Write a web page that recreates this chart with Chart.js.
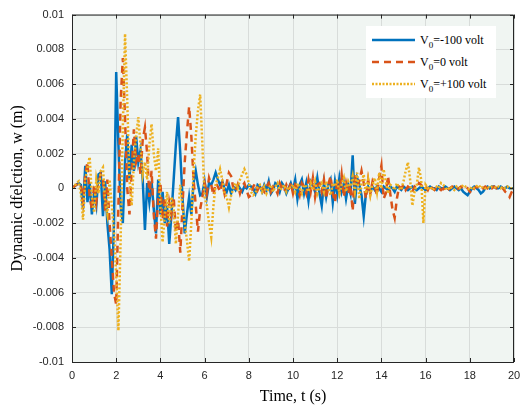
<!DOCTYPE html>
<html>
<head>
<meta charset="utf-8">
<script src="https://cdn.jsdelivr.net/npm/chart.js@4.4.1/dist/chart.umd.min.js"></script>
<style>
  html, body { margin: 0; padding: 0; background: #ffffff; }
  #wrap { position: relative; width: 520px; height: 408px; }
  #c { position: absolute; left: 0; top: 0; }
  #legend { position: absolute; left: 366px; top: 26px; width: 130px; height: 72px;
    background: #ffffff; font-family: "Liberation Serif", "Times New Roman", serif; font-size: 12px; color: #000; }
  .row { position: absolute; left: 6px; height: 16px; display: flex; align-items: center; white-space: nowrap; }
  .row svg { margin-right: 5px; }
  .row sub { font-size: 9px; vertical-align: -4px; line-height: 0; }
</style>
</head>
<body>
<div id="wrap">
  <canvas id="c" width="520" height="408"></canvas>
  <div id="legend"></div>
</div>
<script>
// ---- data (time in s, deflection in m) ----
const time = [
  0,0.1,0.2,0.3,0.4,0.5,0.6,0.7,0.8,0.9,
  1,1.1,1.2,1.3,1.4,1.5,1.6,1.7,1.8,1.9,
  2,2.1,2.2,2.3,2.4,2.5,2.6,2.7,2.8,2.9,
  3,3.1,3.2,3.3,3.4,3.5,3.6,3.7,3.8,3.9,
  4,4.1,4.2,4.3,4.4,4.5,4.6,4.7,4.8,4.9,
  5,5.1,5.2,5.3,5.4,5.5,5.6,5.7,5.8,5.9,
  6,6.1,6.2,6.3,6.4,6.5,6.6,6.7,6.8,6.9,
  7,7.1,7.2,7.3,7.4,7.5,7.6,7.7,7.8,7.9,
  8,8.1,8.2,8.3,8.4,8.5,8.6,8.7,8.8,8.9,
  9,9.1,9.2,9.3,9.4,9.5,9.6,9.7,9.8,9.9,
  10,10.1,10.2,10.3,10.4,10.5,10.6,10.7,10.8,10.9,
  11,11.1,11.2,11.3,11.4,11.5,11.6,11.7,11.8,11.9,
  12,12.1,12.2,12.3,12.4,12.5,12.6,12.7,12.8,12.9,
  13,13.1,13.2,13.3,13.4,13.5,13.6,13.7,13.8,13.9,
  14,14.1,14.2,14.3,14.4,14.5,14.6,14.7,14.8,14.9,
  15,15.1,15.2,15.3,15.4,15.5,15.6,15.7,15.8,15.9,
  16,16.1,16.2,16.3,16.4,16.5,16.6,16.7,16.8,16.9,
  17,17.1,17.2,17.3,17.4,17.5,17.6,17.7,17.8,17.9,
  18,18.1,18.2,18.3,18.4,18.5,18.6,18.7,18.8,18.9,
  19,19.1,19.2,19.3,19.4,19.5,19.6,19.7,19.8,19.9,
  20
];
const wMinus100 = [
  0,0.0001,0.0002,0.0003,0.0002,-0.0012,0.0013,-0.0008,0.0003,-0.0015,
  -0.0003,-0.001,0.0008,0.0009,-0.0016,0.0004,-0.002,-0.0035,-0.0061,-0.002,
  0.0067,0.0025,-0.001,-0.002,0.0015,0.0031,0.0005,0.0025,0.001,0.003,
  0.0015,0.0022,0.0005,-0.0024,0.0003,-0.0008,0.0004,-0.0012,-0.0026,0.0005,
  -0.0015,-0.0002,-0.002,-0.001,-0.0032,-0.0015,0.0005,0.0025,0.0041,0.002,
  -0.0005,-0.0026,-0.0015,-0.0005,-0.0015,0.0003,0.001,0.0002,-0.0004,-0.0003,
  0.0004,-0.0005,0.0003,0.0002,0.0005,0.0009,0.0005,0.0002,0.0004,0,
  -0.0002,0.0002,-0.0003,0.0001,-0.0001,0.0002,0,-0.0002,0.0001,0,
  0.0002,0.0001,0,-0.0003,0.0002,0.0001,-0.0002,0.0002,-0.0001,0.0004,
  -0.0003,-0.0001,0.0003,0.0002,-0.0002,0.0003,0.0001,-0.0003,0,0.0003,
  -0.0001,0.0005,-0.0006,0.0002,0.0005,-0.0003,0.0003,-0.0007,0.0004,0.0002,
  -0.0002,0.0006,-0.0003,-0.001,0.0003,-0.0005,0.0002,0.0005,-0.0008,0.0004,
  -0.0004,0.0006,-0.0002,0.0003,-0.0006,0.0002,-0.0003,0.0019,-0.0009,0.0006,
  0.0002,-0.0004,-0.0016,-0.0003,0.0001,-0.0002,0.0001,-0.0001,0.0001,0,
  -0.0002,0.0001,0,-0.0001,0.0001,0,-0.0002,0.0001,0,-0.0001,
  0.0001,0,-0.0001,0,0.0001,0,-0.0001,0,0.0001,0,
  -0.0001,0,0.0001,0,0,-0.0001,0.0001,0,0,0.0001,
  0,-0.0001,0,0.0001,0,-0.0001,0,-0.0002,-0.0003,-0.0004,
  -0.0002,0,0.0001,0,-0.0001,-0.0003,-0.0002,0,0.0001,0,
  0.0001,0.0001,0,0,0.0001,0,0,0.0001,0,0,
  0
];
const wZero = [
  0,0.0001,0.0002,0.0003,0.0002,-0.0008,0.0008,0.0015,-0.0005,-0.0012,
  0.0002,-0.0008,0.0003,0.0008,0.0005,-0.0013,0.0005,-0.002,-0.004,-0.006,
  -0.0067,-0.001,0.005,0.0075,0.004,0,-0.0015,0.001,0.0034,0.0015,
  0.002,0.0008,0.0028,0.0035,0.002,-0.0005,0.001,-0.0015,-0.0029,-0.0005,
  0.0003,-0.0018,-0.0005,-0.0022,-0.0008,-0.0015,-0.0005,-0.0025,-0.0018,-0.0037,
  -0.001,0.0015,0.0032,0.0047,0.003,0.0005,-0.001,-0.0025,-0.0012,-0.0005,
  0.0003,-0.0003,0.0006,0.0002,-0.0004,0.0003,0.0001,-0.0002,0.0003,-0.0003,
  0.0003,0.0009,0.0007,0,-0.0002,0.0002,-0.0003,0.0001,0.0003,-0.0001,
  -0.0005,-0.0004,0.0001,0.0003,-0.0001,0.0002,0,-0.0002,0.0001,0.0003,
  -0.0002,0.0001,0,-0.0003,0.0003,0,-0.0002,0.0002,-0.0001,0.0003,
  -0.0003,0.0002,0,-0.0004,0.0003,0.0001,-0.0003,0.0005,-0.0002,0.0006,
  -0.0005,0.0002,0.0003,-0.0002,0.0005,-0.0006,0.0002,0.0007,-0.0003,-0.0008,
  0.0004,-0.0002,0.0008,-0.0005,0.0003,-0.0003,0.0002,-0.0013,0.0008,0.0001,
  0.0004,0.001,0.0003,-0.0006,0.0005,-0.0003,0.0004,0.0001,-0.0004,0.0006,
  0.0013,-0.0006,-0.0003,0.0007,-0.0003,-0.0012,-0.0017,-0.0006,0.0001,0,
  0.0002,-0.0001,0.0001,0,-0.0002,0.0001,0,0.0003,0.0002,0,
  0.0001,-0.0001,0.0002,0,-0.0001,0.0001,0,-0.0001,0,-0.0002,
  -0.0001,0,0.0001,0,-0.0001,0,0.0001,0,-0.0001,0,
  -0.0002,-0.0003,0,0.0001,0,0.0001,0,0.0001,0,0.0001,
  0,0.0001,0,0,0.0001,0,-0.0002,-0.0003,-0.0005,-0.0002,
  0
];
const wPlus100 = [
  0,0.0001,0.0003,0.0004,-0.0003,-0.0018,0.0005,0.0012,0.0018,-0.0005,
  -0.0014,0.0005,-0.0003,0.001,0.0012,-0.0008,-0.0015,0.0005,-0.001,-0.0025,
  -0.005,-0.0082,-0.003,0.0035,0.0089,0.005,0.0005,-0.001,0.0015,0.003,
  0.0041,0.0025,0.0008,0.0015,0.0005,0.0025,0.0037,0.002,0.001,0.0023,
  -0.001,-0.0031,-0.0015,-0.0002,-0.002,-0.0005,-0.0012,-0.0032,-0.0015,0.0002,
  -0.001,-0.002,-0.003,-0.0042,-0.002,0.001,0.003,0.0045,0.0054,0.0025,
  -0.0005,-0.001,-0.002,-0.0028,-0.001,0.0002,0.0006,0.0011,0.0005,-0.0003,
  -0.0005,-0.0011,-0.0004,0,0.0003,0,0.0005,0.0008,0.0011,0.0008,
  0.0003,-0.0002,-0.0004,-0.0003,0.0001,0.0002,-0.0002,0.0001,-0.0003,0,
  0.0002,-0.0002,0.0001,0.0003,-0.0001,0,0.0002,-0.0002,0.0001,0,
  0.0002,-0.0002,0.0003,0,-0.0003,0.0002,0.0001,-0.0002,0.0003,-0.0001,
  0.0004,-0.0003,0.0001,0.0003,-0.0002,0.0004,0,-0.0004,0.0003,0.0001,
  0.0005,-0.0003,0.0002,0.0006,-0.0002,0.0004,0.0001,0.0007,-0.0002,0.0009,
  -0.0006,0.0003,0.0008,-0.0003,0.0005,-0.0004,0.0002,0.0006,-0.0002,0.0009,
  0,0.0011,0.0004,-0.0003,0.0002,0.0001,-0.0001,0.0003,0,-0.0001,
  0.0004,0.001,0.0015,0.0005,-0.001,-0.0002,0.0002,0.0012,0.0005,-0.002,
  0.0002,0,0.0001,-0.0001,0,0.0001,0,0.0003,0.0002,0,
  -0.0001,0.0001,0,-0.0001,0.0001,0,0,0.0002,0.0001,0,
  -0.0001,0.0001,0,0.0001,0.0002,0,0.0001,0,0.0001,0,
  0.0001,0.0001,0,0.0001,0,0.0001,0,0.0001,0,0,
  0
];
const seriesNames = ['=-100 volt', '=0 volt', '=+100 volt'];
const xTitle = 'Time, t (s)';
const yTitle = 'Dynamic dfelction, w (m)';

// ---- styles ----
const colors = ['#0072BD', '#D95319', '#EDB120'];
const dashes = [[], [7, 5], [2, 2]];

const series = [wMinus100, wZero, wPlus100];
const datasets = series.map((vals, k) => ({
  label: 'V0' + seriesNames[k],
  data: time.map((t, i) => ({ x: t, y: vals[i] })),
  borderColor: colors[k],
  borderWidth: 2.5,
  borderDash: dashes[k],
  pointRadius: 0,
  tension: 0,
  fill: false,
  order: 3 - k
}));

const tickFont = { family: 'Liberation Sans, Arial, sans-serif', size: 11 };
const titleFont = { family: 'Liberation Serif, Times New Roman, serif', size: 16 };

const framePlugin = {
  id: 'frame',
  beforeDraw(chart) {
    const { ctx, chartArea: a } = chart;
    ctx.save();
    ctx.fillStyle = '#F0F5F2';
    ctx.fillRect(a.left, a.top, a.right - a.left, a.bottom - a.top);
    ctx.restore();
  },
  afterDraw(chart) {
    const { ctx, chartArea: a, scales } = chart;
    ctx.save();
    ctx.strokeStyle = '#262626';
    ctx.lineWidth = 1;
    ctx.beginPath();
    ctx.rect(a.left + 0.5, a.top + 0.5, a.right - a.left - 1, a.bottom - a.top);
    ctx.stroke();
    const L = 4;
    ctx.beginPath();
    scales.x.ticks.forEach(tk => {
      const px = Math.round(scales.x.getPixelForValue(tk.value)) + 0.5;
      ctx.moveTo(px, a.bottom); ctx.lineTo(px, a.bottom - L);
      ctx.moveTo(px, a.top); ctx.lineTo(px, a.top + L);
    });
    scales.y.ticks.forEach(tk => {
      const py = Math.round(scales.y.getPixelForValue(tk.value)) + 0.5;
      ctx.moveTo(a.left, py); ctx.lineTo(a.left + L, py);
      ctx.moveTo(a.right, py); ctx.lineTo(a.right - L, py);
    });
    ctx.stroke();
    ctx.restore();
  }
};

new Chart(document.getElementById('c'), {
  type: 'line',
  data: { datasets },
  options: {
    responsive: false,
    animation: false,
    layout: { padding: { left: 0, right: 0, top: 14, bottom: 0 } },
    plugins: { legend: { display: false }, tooltip: { enabled: false } },
    scales: {
      x: {
        type: 'linear', min: 0, max: 20,
        afterFit(s) { s.height = 46; s.paddingRight = 6; s.paddingLeft = 0; },
        ticks: { stepSize: 2, font: tickFont, color: '#262626', padding: 7, maxRotation: 0 },
        grid: { color: '#D8DCDA', drawTicks: false },
        border: { display: false },
        title: { display: true, text: xTitle, font: titleFont, color: '#000', padding: { top: 0, bottom: 2 } }
      },
      y: {
        type: 'linear', min: -0.01, max: 0.01,
        afterFit(s) { s.width = 72; },
        ticks: {
          stepSize: 0.002, font: tickFont, color: '#262626', padding: 8,
          callback: v => String(Number(v.toFixed(4)))
        },
        grid: { color: '#D8DCDA', drawTicks: false },
        border: { display: false },
        title: { display: true, text: yTitle, font: titleFont, color: '#000', padding: { top: 8, bottom: 0 } }
      }
    }
  },
  plugins: [framePlugin]
});

// ---- legend (HTML, real text with subscript) ----
const legend = document.getElementById('legend');
const svgDash = ['', '7,5', '2,1.5'];
seriesNames.forEach((name, k) => {
  const row = document.createElement('div');
  row.className = 'row';
  row.style.top = (6 + k * 22) + 'px';
  const ns = 'http://www.w3.org/2000/svg';
  const svg = document.createElementNS(ns, 'svg');
  svg.setAttribute('width', '43'); svg.setAttribute('height', '6');
  const ln = document.createElementNS(ns, 'line');
  ln.setAttribute('x1', '0'); ln.setAttribute('y1', '3');
  ln.setAttribute('x2', '43'); ln.setAttribute('y2', '3');
  ln.setAttribute('stroke', colors[k]);
  ln.setAttribute('stroke-width', '2.5');
  if (svgDash[k]) ln.setAttribute('stroke-dasharray', svgDash[k]);
  svg.appendChild(ln);
  row.appendChild(svg);
  const txt = document.createElement('span');
  txt.innerHTML = 'V<sub>0</sub>' + name;
  row.appendChild(txt);
  legend.appendChild(row);
});
</script>
</body>
</html>
